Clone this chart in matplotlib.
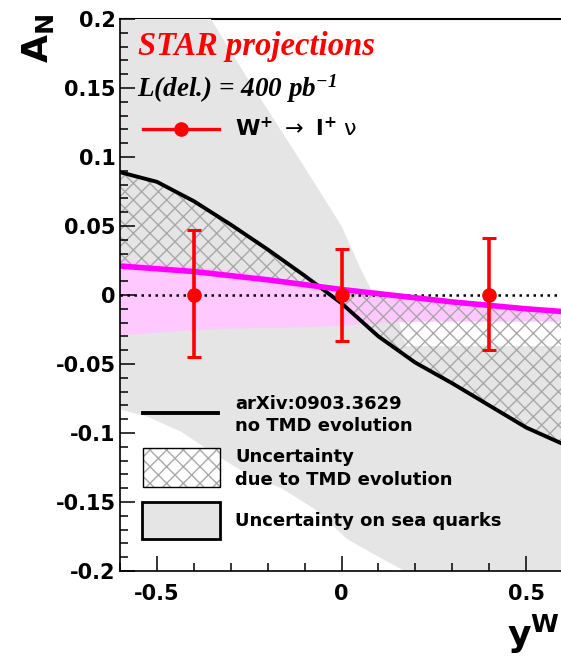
import numpy as np
import matplotlib
matplotlib.use("Agg")
import matplotlib.pyplot as plt
from matplotlib.lines import Line2D
from matplotlib.patches import Rectangle
from matplotlib.ticker import MultipleLocator

plt.rcParams['font.family'] = ['DejaVu Sans']
plt.rcParams['mathtext.fontset'] = 'dejavusans'
plt.rcParams['mathtext.it'] = 'Liberation Serif:italic:bold'
plt.rcParams['mathtext.rm'] = 'Liberation Serif:italic:bold'
plt.rcParams['hatch.linewidth'] = 1.0

# --- data ---
# STAR projected points (W+ -> l+ nu)
y_pts = [-0.4, 0.0, 0.4]
an_pts = [0.0, 0.0, 0.0]
err_lo = [0.045, 0.033, 0.040]
err_hi = [0.047, 0.033, 0.041]

# theory curves on a common rapidity grid
y_grid = [-0.6, -0.5, -0.4, -0.3, -0.2, -0.1, 0.0, 0.1, 0.2, 0.3, 0.4, 0.5, 0.6]
an_no_tmd = [0.089, 0.082, 0.068, 0.051, 0.033, 0.014, -0.006, -0.030, -0.049,
             -0.064, -0.080, -0.096, -0.108]
an_tmd = [0.021, 0.019, 0.017, 0.014, 0.011, 0.0075, 0.004, 0.001, -0.002,
          -0.005, -0.0075, -0.010, -0.012]
tmd_band_hi = [0.026, 0.024, 0.021, 0.018, 0.014, 0.010, 0.006, 0.002, -0.001,
               -0.004, -0.006, -0.009, -0.011]
tmd_band_lo = [-0.029, -0.027, -0.025, -0.024, -0.0235, -0.023, -0.022, -0.020,
               -0.019, -0.019, -0.019, -0.019, -0.019]

# sea quark uncertainty band (upper and lower edges)
sea_up_x = [-0.6, -0.354, -0.25, -0.12, 0.0, 0.05, 0.08, 0.155, 0.175, 0.6]
sea_up_y = [0.2, 0.2, 0.155, 0.101, 0.05, 0.02, 0.004, -0.019, -0.037, -0.037]
sea_lo_x = [-0.6, -0.527, -0.435, -0.345, -0.255, -0.163, -0.073, 0.016, 0.109,
            0.171, 0.6]
sea_lo_y = [-0.083, -0.088, -0.099, -0.115, -0.130, -0.140, -0.155, -0.177,
            -0.191, -0.2, -0.2]

x_ticks = [-0.5, 0.0, 0.5]
x_tick_labels = ['-0.5', '0', '0.5']
y_ticks = [-0.2, -0.15, -0.1, -0.05, 0.0, 0.05, 0.1, 0.15, 0.2]
y_tick_labels = ['-0.2', '-0.15', '-0.1', '-0.05', '0', '0.05', '0.1', '0.15', '0.2']

legend_labels = ['arXiv:0903.3629\nno TMD evolution',
                 'Uncertainty\ndue to TMD evolution',
                 'Uncertainty on sea quarks']

fig = plt.figure(figsize=(5.61, 6.56), dpi=100)
ax = fig.add_axes([120 / 561, 85 / 656, 443 / 561, 552 / 656])

gray = '#e5e5e5'
hatch_col = '#a8a8a8'
ax.fill(sea_up_x + sea_lo_x[::-1], sea_up_y + sea_lo_y[::-1],
        color=gray, lw=0, zorder=1)
ax.fill_between(y_grid, tmd_band_lo, tmd_band_hi, color='#ffc8ff', lw=0, zorder=1.1)
ax.fill_between(y_grid, an_no_tmd, an_tmd, facecolor='none', edgecolor=hatch_col,
                hatch='xx', lw=0, zorder=1.2)

ax.axhline(0, color='black', lw=1.8, ls=(0, (1, 1.8)), zorder=1.5)
ax.axhline(0.2, color='black', lw=1.5, zorder=0.5, clip_on=False)

ax.plot(y_grid, an_no_tmd, color='black', lw=2.8, zorder=2)
ax.plot(y_grid, an_tmd, color='#ff00ff', lw=4, zorder=2.1)

ax.errorbar(y_pts, an_pts, yerr=[err_lo, err_hi], fmt='o', color='red', ms=9.5,
            lw=2.6, capsize=4.7, capthick=2.2, zorder=5)

ax.set_xlim(-0.6, 0.6)
ax.set_ylim(-0.2, 0.2)
ax.spines['top'].set_visible(False)
ax.spines['right'].set_visible(False)
for s in ('left', 'bottom'):
    ax.spines[s].set_linewidth(1.2)
    ax.spines[s].set_zorder(3)

ax.set_xticks(x_ticks)
ax.set_xticklabels(x_tick_labels, fontweight='bold', fontsize=15)
ax.set_yticks(y_ticks)
ax.set_yticklabels(y_tick_labels, fontweight='bold', fontsize=15)
ax.xaxis.set_minor_locator(MultipleLocator(0.1))
ax.yaxis.set_minor_locator(MultipleLocator(0.01))
ax.tick_params(which='both', direction='in', width=1.1)
ax.tick_params(which='major', length=11)
ax.tick_params(which='minor', length=6)
ax.tick_params(axis='x', which='major', pad=9)
ax.tick_params(axis='y', which='major', pad=3)

fig.text(38 / 561, 1 - 14 / 656, r'$\mathbf{A_{N}}$', rotation=90, fontsize=26,
         ha='center', va='top')
fig.text(0.998, 9 / 656, r'$\mathbf{y^{W}}$', fontsize=26, ha='right', va='baseline')

ax.text(0.041, 0.935, 'STAR projections', transform=ax.transAxes, color='red',
        family='Liberation Serif', style='italic', weight='bold', fontsize=23.5)
ax.text(0.038, 0.859, r'L(del.) = 400 pb$^{-1}$', transform=ax.transAxes,
        color='black', family='Liberation Serif', style='italic', weight='bold',
        fontsize=19.5, math_fontfamily='custom')

w_handle = Line2D([], [], color='red', lw=2.4, marker='o', ms=9.5)
leg1 = ax.legend([w_handle], [r'$\mathbf{W^{+}}\ \rightarrow\ \mathbf{l^{+}}\ \mathrm{\nu}$'],
                 loc='upper left', bbox_to_anchor=(0.052, 0.822), frameon=False,
                 prop=dict(size=16), handlelength=3.4, handletextpad=0.75,
                 borderpad=0, borderaxespad=0)

# lower legend, ROOT style: keys and labels in axes coordinates
T = ax.transAxes
ax.add_line(Line2D([0.052, 0.221], [0.286, 0.286], color='black', lw=2.8,
                   transform=T, zorder=6))
ax.add_patch(Rectangle((0.052, 0.152), 0.174, 0.071, facecolor='white',
                       edgecolor=hatch_col, hatch='xx', lw=0, transform=T, zorder=6))
ax.add_patch(Rectangle((0.052, 0.152), 0.174, 0.071, facecolor='none',
                       edgecolor='black', lw=1.0, transform=T, zorder=6.1))
ax.add_patch(Rectangle((0.050, 0.058), 0.176, 0.067, facecolor=gray,
                       edgecolor='black', lw=2, transform=T, zorder=6))
for yc, lab in zip([0.2826, 0.186, 0.0906], legend_labels):
    ax.text(0.2596, yc, lab, transform=T, fontsize=13, fontweight='bold',
            va='center', ha='left', linespacing=1.35, zorder=6)

fig.savefig('out.png', dpi=100)
